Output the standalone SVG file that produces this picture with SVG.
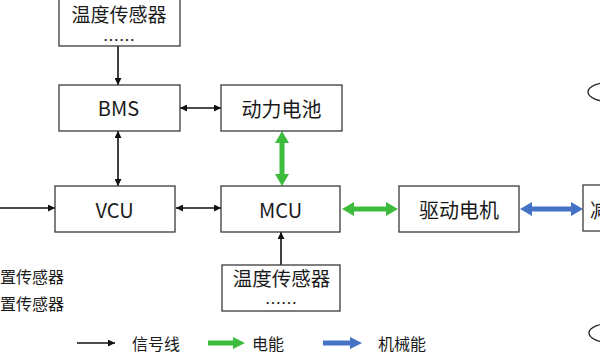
<svg xmlns="http://www.w3.org/2000/svg" width="600" height="357" viewBox="0 0 600 357">
<defs>
<style>
.box{fill:#fff;stroke:#3a3a3a;stroke-width:1.3}
.t{font-family:"Noto Sans CJK SC","Noto Sans",sans-serif;font-size:20px;fill:#1a1a1a;text-anchor:middle;dominant-baseline:central}
.s{font-family:"Noto Sans CJK SC","Noto Sans",sans-serif;font-size:16px;fill:#1a1a1a;dominant-baseline:central}
.d{font-family:"Noto Sans CJK SC","Noto Sans",sans-serif;font-size:16px;fill:#1a1a1a;text-anchor:middle;dominant-baseline:central}
.sig{stroke:#111;stroke-width:1.6;fill:none}
.green{fill:#3dbb3d}
.blue{fill:#4472c4}
</style>
<marker id="ah" viewBox="0 0 10 10" refX="10" refY="5" markerWidth="8" markerHeight="7" markerUnits="userSpaceOnUse" orient="auto-start-reverse">
<path d="M0,0 L10,5 L0,10 Z" fill="#111"/>
</marker>
</defs>
<rect width="600" height="357" fill="#fff"/>

<g id="connectors">
<line class="sig" x1="118" y1="46" x2="118" y2="85" marker-end="url(#ah)"/>
<line class="sig" x1="180" y1="108" x2="221" y2="108" marker-start="url(#ah)" marker-end="url(#ah)"/>
<line class="sig" x1="118" y1="131" x2="118" y2="186" marker-start="url(#ah)" marker-end="url(#ah)"/>
<line class="sig" x1="0" y1="208" x2="55" y2="208" marker-end="url(#ah)"/>
<line class="sig" x1="176" y1="208" x2="221" y2="208" marker-start="url(#ah)" marker-end="url(#ah)"/>
<line class="sig" x1="281" y1="265" x2="281" y2="232" marker-end="url(#ah)"/>
<path class="green" d="M282,131 L289,143 L284.5,143 L284.5,174 L289,174 L282,186 L275,174 L279.5,174 L279.5,143 L275,143 Z"/>
<path class="green" d="M342,209 L354,202 L354,206.5 L386,206.5 L386,202 L398,209 L386,216 L386,211.5 L354,211.5 L354,216 Z"/>
<path class="blue" d="M520,209 L532,202 L532,206.5 L571,206.5 L571,202 L583,209 L571,216 L571,211.5 L532,211.5 L532,216 Z"/>
</g>

<g id="temp-top">
<rect class="box" x="59" y="-1" width="121" height="47"/>
<text class="t" x="119" y="13" style="font-size:19px">温度传感器</text>
<text class="d" x="119" y="39">……</text>
</g>
<g id="bms">
<rect class="box" x="59" y="85" width="121" height="46"/>
<text class="t" x="118.5" y="107.5">BMS</text>
</g>
<g id="battery">
<rect class="box" x="221" y="85" width="121" height="46"/>
<text class="t" x="281.5" y="108">动力电池</text>
</g>
<g id="vcu">
<rect class="box" x="55" y="186" width="120" height="46"/>
<text class="t" x="114.5" y="209">VCU</text>
</g>
<g id="mcu">
<rect class="box" x="221" y="186" width="119" height="46"/>
<text class="t" x="280.5" y="209">MCU</text>
</g>
<g id="motor">
<rect class="box" x="399" y="186" width="120" height="46"/>
<text class="t" x="459" y="209.5">驱动电机</text>
</g>
<g id="reducer">
<rect class="box" x="583" y="185" width="30" height="46"/>
<text class="t" x="590" y="209" style="text-anchor:start">减速器</text>
</g>
<g id="temp-bottom">
<rect class="box" x="222" y="265" width="118" height="46"/>
<text class="t" x="281.5" y="277" style="font-size:19.5px">温度传感器</text>
<text class="d" x="281" y="302">……</text>
</g>
<g id="ellipse-top">
<ellipse cx="612" cy="92" rx="24" ry="10" fill="none" stroke="#222" stroke-width="1.3"/>
</g>
<g id="ellipse-bottom">
<ellipse cx="613" cy="333" rx="24" ry="10" fill="none" stroke="#222" stroke-width="1.3"/>
</g>
<g id="left-sensors">
<text class="s" x="0" y="276">置传感器</text>
<text class="s" x="0" y="303">置传感器</text>
</g>
<g id="legend">
<line class="sig" x1="77" y1="343" x2="115" y2="343" marker-end="url(#ah)"/>
<text class="s" x="132" y="343">信号线</text>
<path class="green" d="M208,340.5 L233,340.5 L233,337 L245,343 L233,349 L233,345.5 L208,345.5 Z"/>
<text class="s" x="252" y="343">电能</text>
<path class="blue" d="M323,340.5 L350,340.5 L350,337 L362,343 L350,349 L350,345.5 L323,345.5 Z"/>
<text class="s" x="378" y="343">机械能</text>
</g>
</svg>
